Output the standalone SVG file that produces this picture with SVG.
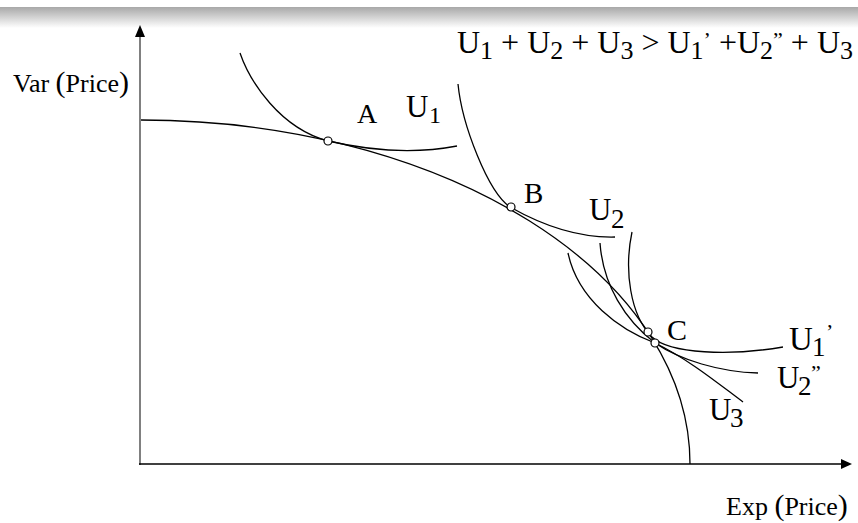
<svg xmlns="http://www.w3.org/2000/svg" width="858" height="523" viewBox="0 0 858 523">
<defs>
<linearGradient id="bar" x1="0" y1="0" x2="0" y2="1">
<stop offset="0" stop-color="#a8a8a8"/>
<stop offset="1" stop-color="#ffffff"/>
</linearGradient>
<style>
.t{font-family:"Liberation Serif","Times New Roman",serif;fill:#000}
.c{fill:none;stroke:#000;stroke-width:1.3}
.p{fill:#fff;stroke:#000;stroke-width:1.2}
</style>
</defs>
<rect x="0" y="0" width="858" height="523" fill="#fff"/>
<rect x="0" y="7" width="858" height="21" fill="url(#bar)"/>

<g id="axes">
<line x1="140" y1="465" x2="140" y2="34" stroke="#808080" stroke-width="2"/>
<polygon points="140,25 135,37 145,37" fill="#000"/>
<line x1="139" y1="464" x2="844" y2="464" stroke="#000" stroke-width="1.6"/>
<polygon points="852,464 841,459 841,469" fill="#000"/>
</g>

<g id="connectors">
<path id="frontier" class="c" d="M141,120 A549,344 0 0 1 690,464"/>
<path id="U1curve" class="c" d="M240,53 C250,82 280,128 328,141 C365,149.5 410,155 457,146"/>
<path id="U2curve" class="c" d="M458,84 C462,125 488,192 510,207 C540,224 575,238 615,237"/>
<path id="U1pcurve" class="c" d="M632,232 C624,270 630,315 652,337 C670,354 730,356 783,347"/>
<path id="U2ppcurve" class="c" d="M600,243 C603,285 625,320 655,343 C680,360 720,372 758,373"/>
<path id="U3curve" class="c" d="M568,253 C578,300 620,330 655,343 C690,360 720,385 743,402"/>
</g>

<g id="pointA"><circle class="p" cx="328" cy="141" r="4"/></g>
<g id="pointB"><circle class="p" cx="511" cy="207" r="4"/></g>
<g id="pointC"><circle class="p" cx="648" cy="332" r="4"/><circle class="p" cx="655" cy="343" r="4"/></g>

<g id="labels">
<text class="t" x="13" y="92" font-size="26">Var <tspan font-size="30">(</tspan>Price<tspan font-size="30">)</tspan></text>
<text class="t" x="726" y="515" font-size="26">Exp <tspan font-size="30">(</tspan>Price<tspan font-size="30">)</tspan></text>
<text class="t" x="357" y="123" font-size="28">A</text>
<text class="t" x="524" y="203" font-size="29">B</text>
<text class="t" x="667" y="340" font-size="30">C</text>
<text class="t" font-size="31"><tspan x="406" y="117">U</tspan><tspan x="429" y="123" font-size="24">1</tspan></text>
<text class="t" font-size="31"><tspan x="589" y="220">U</tspan><tspan x="611" y="228" font-size="27">2</tspan></text>
<text class="t" font-size="33"><tspan x="789" y="350">U</tspan><tspan x="812" y="356" font-size="27">1</tspan><tspan x="826" y="339" font-size="22">’</tspan></text>
<text class="t" font-size="31"><tspan x="777" y="388">U</tspan><tspan x="798" y="395" font-size="27">2</tspan><tspan x="811" y="380" font-size="22">”</tspan></text>
<text class="t" font-size="31"><tspan x="709" y="420">U</tspan><tspan x="730" y="427" font-size="27">3</tspan></text>
</g>

<g id="equation">
<text class="t" x="457" y="53" font-size="32">U<tspan font-size="26" dy="6">1</tspan><tspan dy="-6"> + U</tspan><tspan font-size="26" dy="6">2</tspan><tspan dy="-6"> + U</tspan><tspan font-size="26" dy="6">3</tspan><tspan dy="-6"> &gt; U</tspan><tspan font-size="26" dy="6">1</tspan><tspan font-size="22" dy="-12">’</tspan><tspan dy="6"> +U</tspan><tspan font-size="26" dy="6">2</tspan><tspan font-size="22" dy="-12">”</tspan><tspan dy="6"> + U</tspan><tspan font-size="26" dy="6">3</tspan></text>
</g>
</svg>
